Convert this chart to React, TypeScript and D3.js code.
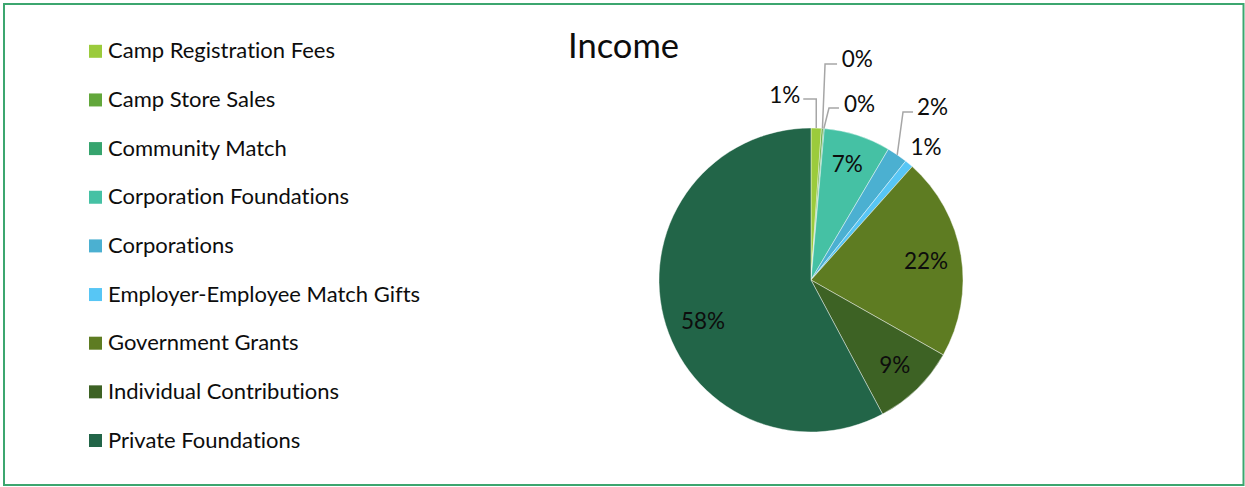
import React from "react";
import * as d3 from "d3";

// ---- data ----
const categories = [
  "Camp Registration Fees",
  "Camp Store Sales",
  "Community Match",
  "Corporation Foundations",
  "Corporations",
  "Employer-Employee Match Gifts",
  "Government Grants",
  "Individual Contributions",
  "Private Foundations",
];
const incomeShare = [1.1, 0.2, 0.1, 7.1, 2.2, 0.9, 21.6, 9.0, 57.8];
const sliceColors = [
  "#9BCB3C",
  "#62A73B",
  "#36A46E",
  "#45C1A4",
  "#4BB0D1",
  "#57C6F5",
  "#5E7C22",
  "#3D6224",
  "#226548",
];
const chartTitle = "Income";

// ---- layout (style only) ----
const W = 1245;
const H = 487;
const CX = 811;
const CY = 280;
const R = 152;
const FONT = "Lato, 'Open Sans', sans-serif";

type LabelSpec =
  | { kind: "in"; nudge: [number, number] }
  | {
      kind: "out";
      elbow?: [number, number];
      end?: [number, number];
      text: [number, number];
      anchor: "start" | "end" | "middle";
    };
const labelSpecs: LabelSpec[] = [
  { kind: "out", elbow: [0, -29], end: [-13, -29], text: [-16, -34], anchor: "end" },
  { kind: "out", elbow: [2.6, -64.4], end: [14.6, -64.4], text: [19.3, -70], anchor: "start" },
  { kind: "out", elbow: [5.1, -20.5], end: [15.1, -20.5], text: [20, -25.5], anchor: "start" },
  { kind: "in", nudge: [0, -4] },
  { kind: "out", elbow: [5.8, -42.8], end: [15.8, -42.8], text: [19.8, -48.3], anchor: "start" },
  { kind: "out", text: [17, -17.7], anchor: "middle" },
  { kind: "in", nudge: [-2, 0] },
  { kind: "in", nudge: [1, 0] },
  { kind: "in", nudge: [7, 12] },
];

export default function App() {
  const total = d3.sum(incomeShare);
  const pie = d3
    .pie<number>()
    .sort(null)
    .value((d) => d);
  const arcs = pie(incomeShare);
  const arcGen = d3.arc<d3.PieArcDatum<number>>().innerRadius(0).outerRadius(R);
  const inner = d3
    .arc<d3.PieArcDatum<number>>()
    .innerRadius(R * 0.78)
    .outerRadius(R * 0.78);
  const edge = d3.arc<d3.PieArcDatum<number>>().innerRadius(R).outerRadius(R);
  const fmt = d3.format(".0%");

  const legendY = d3
    .scalePoint<string>()
    .domain(categories)
    .range([51.3, 440.5]);

  return (
    <svg
      width={W}
      height={H}
      style={{ position: "absolute", left: 0, top: 0, background: "#fff", fontVariantLigatures: "none" }}
      fontFamily={FONT}
    >
      <rect x={0} y={0} width={W} height={H} fill="#fff" />
      <rect x={4} y={4} width={1239.5} height={481} fill="none" stroke="#3ca66f" strokeWidth={2} />

      <text x={623.5} y={58} textAnchor="middle" fontSize={34.5} fill="#0d0d0d">
        {chartTitle}
      </text>

      {categories.map((c, i) => {
        const y = legendY(c)!;
        return (
          <g key={c}>
            <rect x={89} y={y - 6.5} width={13} height={13} fill={sliceColors[i]} />
            <text x={108} y={y + 7} fontSize={22} fill="#0d0d0d">
              {c}
            </text>
          </g>
        );
      })}

      <g transform={`translate(${CX},${CY})`}>
        {arcs.map((a, i) => (
          <path key={i} d={arcGen(a)!} fill={sliceColors[i]} stroke="#ffffff" strokeWidth={0.6} strokeOpacity={0.7} />
        ))}
        {arcs.map((a, i) => {
          const spec = labelSpecs[i];
          const txt = fmt(a.value / total);
          if (spec.kind === "in") {
            const [x, y] = inner.centroid(a);
            return (
              <text
                key={"l" + i}
                x={x + spec.nudge[0]}
                y={y + spec.nudge[1]}
                textAnchor="middle"
                dominantBaseline="central"
                fontSize={22.5}
                fill="#0d0d0d"
              >
                {txt}
              </text>
            );
          }
          const [ex, ey] = edge.centroid(a);
          const pts: [number, number][] = [[ex, ey]];
          if (spec.elbow) pts.push([ex + spec.elbow[0], ey + spec.elbow[1]]);
          if (spec.end) pts.push([ex + spec.end[0], ey + spec.end[1]]);
          return (
            <g key={"l" + i}>
              {pts.length > 1 && (
                <path d={d3.line()(pts)!} fill="none" stroke="#a6a6a6" strokeWidth={1.5} />
              )}
              <text
                x={ex + spec.text[0]}
                y={ey + spec.text[1]}
                textAnchor={spec.anchor}
                dominantBaseline="central"
                fontSize={22.5}
                fill="#0d0d0d"
              >
                {txt}
              </text>
            </g>
          );
        })}
      </g>
    </svg>
  );
}
